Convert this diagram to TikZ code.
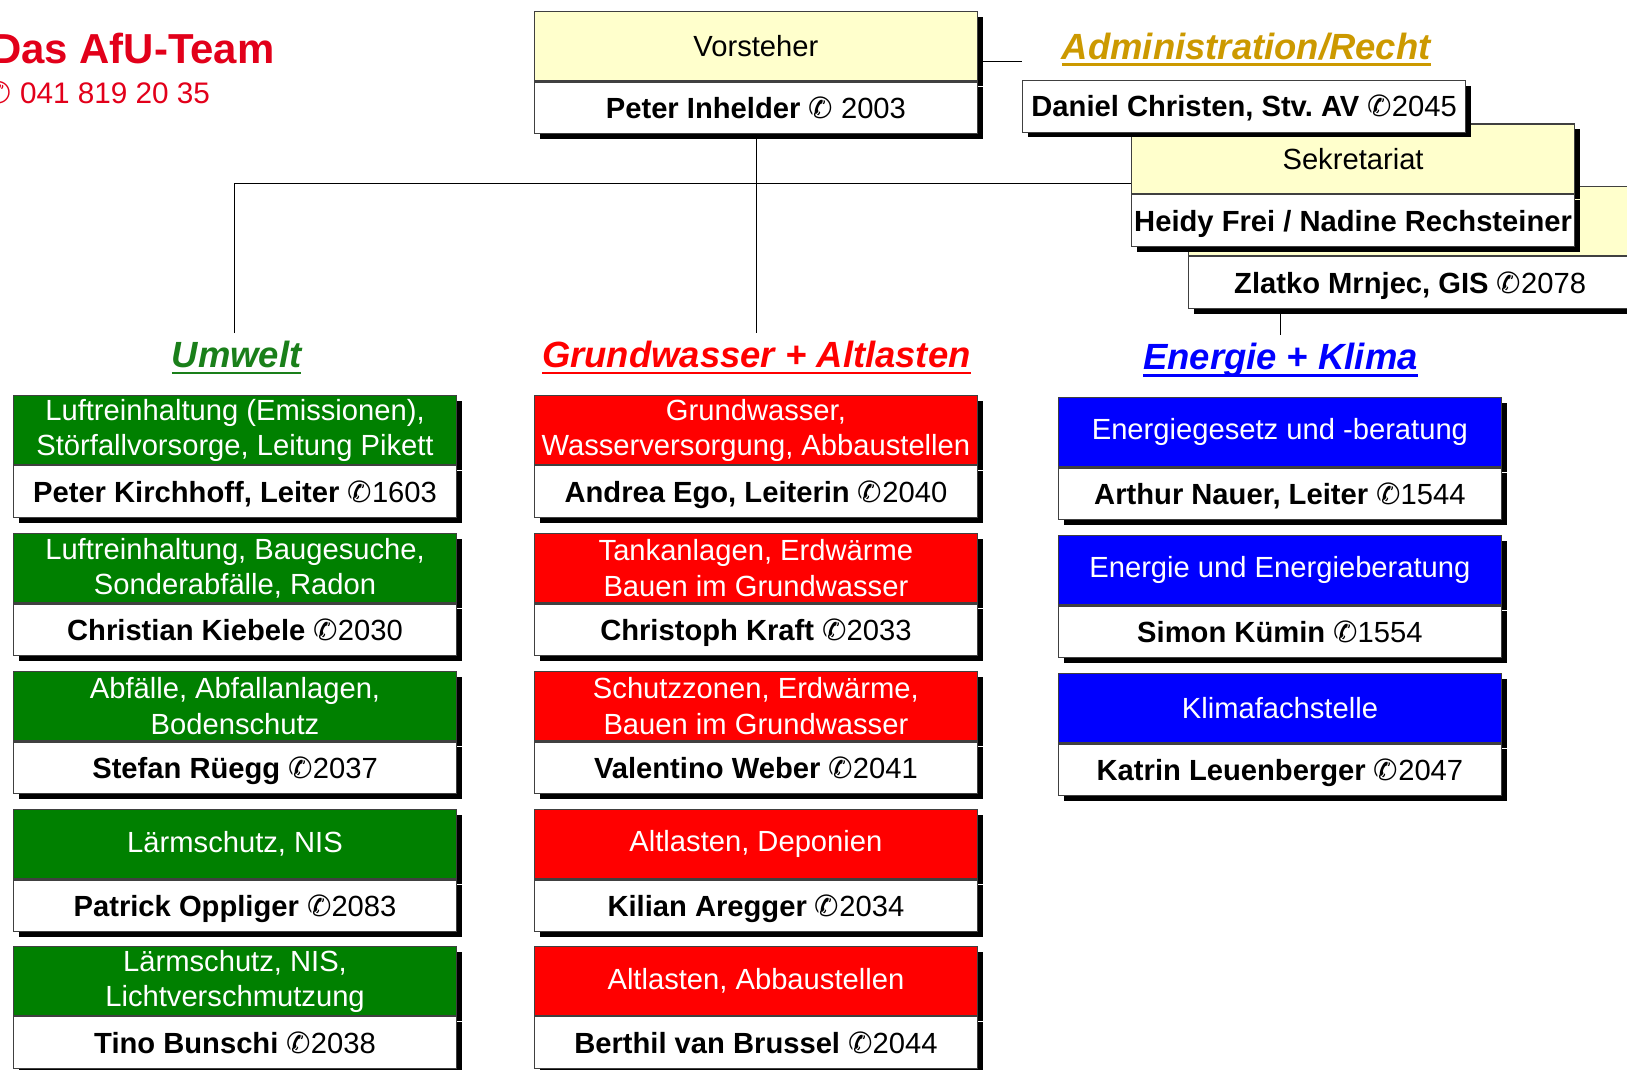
\documentclass[tikz,border=0pt]{standalone}
\usepackage{fontspec}
\setmainfont{Liberation Sans}
\newfontfamily\telfont{DejaVu Sans}
\usetikzlibrary{positioning,shadows,backgrounds}
\definecolor{headyellow}{HTML}{FFFFCC}
\definecolor{umwgreen}{HTML}{008000}
\definecolor{gwred}{HTML}{FF0000}
\definecolor{enblue}{HTML}{0000FF}
\definecolor{teamred}{HTML}{E2001A}
\definecolor{admgold}{HTML}{CC9900}
\definecolor{umwtitle}{HTML}{1A7F1A}
\newcommand\tel{{\telfont\char"2706}}
\newcommand\titleline[1]{\setbox0\hbox{#1}\rlap{\vrule width\wd0 height-2.3pt depth3.9pt}\box0}
\frenchspacing
\begin{document}
\begin{tikzpicture}[x=0.02cm,y=-0.02cm,
  box/.style={draw=black!75,line width=0.6pt,minimum width=8.54cm,inner sep=0pt,align=center,
    font=\fontsize{16}{19.3}\selectfont,
    drop shadow={shadow xshift=0.1cm,shadow yshift=-0.1cm,fill=black,opacity=1}},
  topbox/.style={box,fill=#1,text=white,minimum height=1.34cm},
  namebox/.style={box,fill=white,text=black,minimum height=1cm,text height=11.5pt,text depth=0pt},
  grouptitle/.style={font=\fontsize{20}{24}\selectfont\bfseries\itshape,text=#1,anchor=base,inner sep=4pt}]
\useasboundingbox (0,0) rectangle (1568,1031);

% Titel
\node[anchor=base west,inner sep=0pt,text=teamred,font=\fontsize{23}{27}\selectfont\bfseries] (team) at (-9,61) {Das AfU-Team};
\node[anchor=base west,inner sep=0pt,text=teamred,font=\fontsize{16.3}{19}\selectfont] (phone) at (-13,100) {\tel\ 041 819 20 35};

% Vorsteher
\node[topbox=headyellow,text=black] (vorst) at (728.5,44.5) {Vorsteher};
\node[namebox,below=0pt of vorst] (inhelder) {\textbf{Peter Inhelder} \tel\ 2003};

% Administration/Recht
\node[grouptitle=admgold] (admin) at (1201,57) {\titleline{Administration/Recht}};
\node[topbox=headyellow,text=black] (gis) at (1359,213) {};
\node[namebox,below=0pt of gis] (mrnjec) {\textbf{Zlatko Mrnjec, GIS} \tel2078};
\node[topbox=headyellow,text=black] (sekr) at (1304,153) {Sekretariat};
\node[namebox,below=0pt of sekr] (frei) {\textbf{Heidy Frei / Nadine Rechsteiner}};
\node[namebox] (christen) at (1199,102.5) {\textbf{Daniel Christen, Stv. AV} \tel2045};

% Bereiche
\node[grouptitle=umwtitle] (umwelt) at (228,354) {\titleline{Umwelt}};
\node[grouptitle=gwred] (grundwasser) at (729,354) {\titleline{Grundwasser + Altlasten}};
\node[grouptitle=enblue] (energie) at (1234,356) {\titleline{Energie + Klima}};

% Umwelt
\node[topbox=umwgreen] (u1) at (226.5,414.5) {Luftreinhaltung (Emissionen),\\Störfallvorsorge, Leitung Pikett};
\node[namebox,below=0pt of u1] (kirchhoff) {\textbf{Peter Kirchhoff, Leiter} \tel1603};
\node[topbox=umwgreen] (u2) at (226.5,547.5) {Luftreinhaltung, Baugesuche,\\Sonderabfälle, Radon};
\node[namebox,below=0pt of u2] (kiebele) {\textbf{Christian Kiebele} \tel2030};
\node[topbox=umwgreen] (u3) at (226.5,680.5) {Abfälle, Abfallanlagen,\\Bodenschutz};
\node[namebox,below=0pt of u3] (ruegg) {\textbf{Stefan Rüegg} \tel2037};
\node[topbox=umwgreen] (u4) at (226.5,813.5) {Lärmschutz, NIS};
\node[namebox,below=0pt of u4] (oppliger) {\textbf{Patrick Oppliger} \tel2083};
\node[topbox=umwgreen] (u5) at (226.5,945.5) {Lärmschutz, NIS,\\Lichtverschmutzung};
\node[namebox,below=0pt of u5] (bunschi) {\textbf{Tino Bunschi} \tel2038};

% Grundwasser + Altlasten
\node[topbox=gwred] (g1) at (728.5,414.5) {Grundwasser,\\Wasserversorgung, Abbaustellen};
\node[namebox,below=0pt of g1] (ego) {\textbf{Andrea Ego, Leiterin} \tel2040};
\node[topbox=gwred] (g2) at (728.5,547.5) {Tankanlagen, Erdwärme\\Bauen im Grundwasser};
\node[namebox,below=0pt of g2] (kraft) {\textbf{Christoph Kraft} \tel2033};
\node[topbox=gwred] (g3) at (728.5,680.5) {Schutzzonen, Erdwärme,\\Bauen im Grundwasser};
\node[namebox,below=0pt of g3] (weber) {\textbf{Valentino Weber} \tel2041};
\node[topbox=gwred] (g4) at (728.5,813.5) {Altlasten, Deponien};
\node[namebox,below=0pt of g4] (aregger) {\textbf{Kilian Aregger} \tel2034};
\node[topbox=gwred] (g5) at (728.5,945.5) {Altlasten, Abbaustellen};
\node[namebox,below=0pt of g5] (brussel) {\textbf{Berthil van Brussel} \tel2044};

% Energie + Klima
\node[topbox=enblue] (e1) at (1233.5,416.5) {Energiegesetz und -beratung};
\node[namebox,below=0pt of e1] (nauer) {\textbf{Arthur Nauer, Leiter} \tel1544};
\node[topbox=enblue] (e2) at (1233.5,549.5) {Energie und Energieberatung};
\node[namebox,below=0pt of e2] (kuemin) {\textbf{Simon Kümin} \tel1554};
\node[topbox=enblue] (e3) at (1233.5,682.5) {Klimafachstelle};
\node[namebox,below=0pt of e3] (leuenberger) {\textbf{Katrin Leuenberger} \tel2047};

% Linien
\begin{scope}[on background layer,line width=0.8pt]
\coordinate (hub) at (226,177);
\coordinate (admend) at (985,59);
\draw (inhelder.south) -- (inhelder.south |- grundwasser.north);
\draw (umwelt.north -| hub) -- (hub) -- (hub -| sekr.west);
\draw (admend -| vorst.east) -- (admend);
\draw (mrnjec.south -| energie.north) -- (energie.north);
\end{scope}
\end{tikzpicture}
\end{document}
